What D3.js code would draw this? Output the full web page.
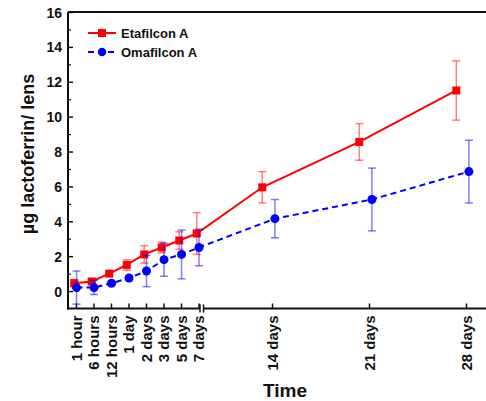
<!DOCTYPE html>
<html>
<head>
<meta charset="utf-8">
<script src="https://cdn.jsdelivr.net/npm/d3@7"></script>
<style>
  body { margin: 0; background: #fff; }
  text { font-family: "Liberation Sans", Arial, sans-serif; font-weight: bold; fill: #111; }
</style>
</head>
<body>
<div id="vis"></div>
<script>
// data
const CATEGORIES = ["1 hour", "6 hours", "12 hours", "1 day", "2 days", "3 days", "5 days", "7 days", "14 days", "21 days", "28 days"];
const ETA_MEAN = [0.45, 0.55, 1.0, 1.5, 2.1, 2.5, 2.9, 3.3, 5.95, 8.55, 11.5];
const ETA_ERR  = [0.2, 0.15, 0.1, 0.3, 0.5, 0.3, 0.5, 1.2, 0.9, 1.05, 1.7];
const OMA_MEAN = [0.2, 0.2, 0.45, 0.75, 1.15, 1.8, 2.1, 2.5, 4.15, 5.25, 6.85];
const OMA_ERR  = [0.95, 0.4, 0.1, 0.1, 0.9, 0.95, 1.4, 1.05, 1.1, 1.8, 1.8];
const Y_TICKS = [0, 2, 4, 6, 8, 10, 12, 14, 16];
const Y_MINOR = [1, 3, 5, 7, 9, 11, 13, 15];

const WIDTH = 486, HEIGHT = 401;
const LEFT = 68, TOP = 12, BOTTOM = 308.5;

const svg = d3.select("#vis").append("svg")
  .attr("width", WIDTH)
  .attr("height", HEIGHT);

//y scale
const Y_SCALE = d3.scaleLinear().domain([-1, 16]).range([BOTTOM, TOP]);

//x is broken: first 8 categories evenly spaced, last 3 on a wider step
const X_LEFT = d3.scaleLinear().domain([0, 7]).range([76, 198.5]);
const X_RIGHT = d3.scaleLinear().domain([8, 10]).range([272, 466]);
function xPos(i, off) {
  return i < 8 ? X_LEFT(i + off) : X_RIGHT(i + off);
}

//y axis ticks (inside)
svg.append("g")
  .attr("transform", "translate(" + LEFT + ",0)")
  .call(d3.axisLeft(Y_SCALE).tickValues(Y_TICKS).tickSize(-5).tickPadding(6))
  .call(g => g.select(".domain").remove())
  .call(g => g.selectAll("line").attr("stroke", "#111").attr("stroke-width", 1.5))
  .call(g => g.selectAll("text").attr("font-size", "14px").attr("dy", "0.36em"));

svg.append("g")
  .attr("transform", "translate(" + LEFT + ",0)")
  .call(d3.axisLeft(Y_SCALE).tickValues(Y_MINOR).tickSize(-3).tickFormat(""))
  .call(g => g.select(".domain").remove())
  .call(g => g.selectAll("line").attr("stroke", "#111").attr("stroke-width", 1.2));

//x axes
function xAxis(scale, idx) {
  svg.append("g")
    .attr("transform", "translate(0," + BOTTOM + ")")
    .call(d3.axisBottom(scale).tickValues(idx).tickSize(-5).tickFormat(i => CATEGORIES[i]))
    .call(g => g.select(".domain").remove())
    .call(g => g.selectAll("line").attr("stroke", "#111").attr("stroke-width", 1.5))
    .call(g => g.selectAll("text")
      .attr("font-size", "15px")
      .attr("transform", "rotate(-90)")
      .attr("x", -7)
      .attr("y", 0)
      .attr("dy", "0.36em")
      .style("text-anchor", "end"));
}
xAxis(X_LEFT, d3.range(0, 8));
xAxis(X_RIGHT, d3.range(8, 11));

//frame lines
const frame = svg.append("g").attr("stroke", "#111").attr("stroke-width", 2).attr("fill", "none");
frame.append("line").attr("x1", LEFT).attr("x2", LEFT).attr("y1", TOP).attr("y2", BOTTOM + 1);
frame.append("line").attr("x1", LEFT).attr("x2", WIDTH).attr("y1", TOP).attr("y2", TOP);
frame.append("line").attr("x1", LEFT - 1).attr("x2", 200).attr("y1", BOTTOM).attr("y2", BOTTOM);
frame.append("line").attr("x1", 203.5).attr("x2", WIDTH).attr("y1", BOTTOM).attr("y2", BOTTOM);
//axis break marks
frame.append("line").attr("x1", 200).attr("x2", 200).attr("y1", BOTTOM - 4).attr("y2", BOTTOM + 4).attr("stroke-width", 1.5);
frame.append("line").attr("x1", 203.5).attr("x2", 203.5).attr("y1", BOTTOM - 4).attr("y2", BOTTOM + 4).attr("stroke-width", 1.5);

//series
const SERIES = [
  {name: "Etafilcon A", mean: ETA_MEAN, err: ETA_ERR, color: "#ff0000", errColor: "rgba(255,0,0,0.5)", off: -0.1, dash: null, shape: "square"},
  {name: "Omafilcon A", mean: OMA_MEAN, err: OMA_ERR, color: "#0000ff", errColor: "rgba(0,0,255,0.5)", off: 0.03, dash: "6,4", shape: "circle"}
];

SERIES.forEach(s => {
  const pts = s.mean.map((m, i) => ({x: xPos(i, s.off), m: m, e: s.err[i]}));
  const g = svg.append("g");

  //error bars
  const eb = g.append("g").attr("stroke", s.errColor).attr("stroke-width", 1.5);
  pts.forEach(p => {
    eb.append("line").attr("x1", p.x).attr("x2", p.x).attr("y1", Y_SCALE(p.m - p.e)).attr("y2", Y_SCALE(p.m + p.e));
    eb.append("line").attr("x1", p.x - 4).attr("x2", p.x + 4).attr("y1", Y_SCALE(p.m - p.e)).attr("y2", Y_SCALE(p.m - p.e));
    eb.append("line").attr("x1", p.x - 4).attr("x2", p.x + 4).attr("y1", Y_SCALE(p.m + p.e)).attr("y2", Y_SCALE(p.m + p.e));
  });

  //line
  g.append("path")
    .datum(pts)
    .attr("fill", "none")
    .attr("stroke", s.color)
    .attr("stroke-width", 2)
    .attr("stroke-dasharray", s.dash)
    .attr("d", d3.line().x(p => p.x).y(p => Y_SCALE(p.m)));

  //markers
  if (s.shape === "square") {
    g.selectAll("rect").data(pts).enter().append("rect")
      .attr("x", p => p.x - 4).attr("y", p => Y_SCALE(p.m) - 4)
      .attr("width", 8).attr("height", 8)
      .attr("fill", s.color);
  } else {
    g.selectAll("circle").data(pts).enter().append("circle")
      .attr("cx", p => p.x).attr("cy", p => Y_SCALE(p.m))
      .attr("r", 4.5)
      .attr("fill", s.color);
  }
});

//legend
SERIES.forEach((s, k) => {
  const ly = 33 + k * 19;
  const lg = svg.append("g");
  lg.append("line").attr("x1", 88).attr("x2", 116).attr("y1", ly).attr("y2", ly)
    .attr("stroke", s.color).attr("stroke-width", 2).attr("stroke-dasharray", s.dash);
  if (s.shape === "square") {
    lg.append("rect").attr("x", 98).attr("y", ly - 4).attr("width", 8).attr("height", 8).attr("fill", s.color);
  } else {
    lg.append("circle").attr("cx", 102).attr("cy", ly).attr("r", 4.2).attr("fill", s.color);
  }
  lg.append("text").attr("x", 121).attr("y", ly).attr("dy", "0.36em")
    .attr("font-size", "13px").text(s.name);
});

//axis titles
svg.append("text")
  .attr("transform", "translate(34,154) rotate(-90)")
  .attr("text-anchor", "middle")
  .attr("font-size", "18px")
  .text("µg lactoferrin/ lens");

svg.append("text")
  .attr("x", 285).attr("y", 397)
  .attr("text-anchor", "middle")
  .attr("font-size", "19px")
  .text("Time");
</script>
</body>
</html>
